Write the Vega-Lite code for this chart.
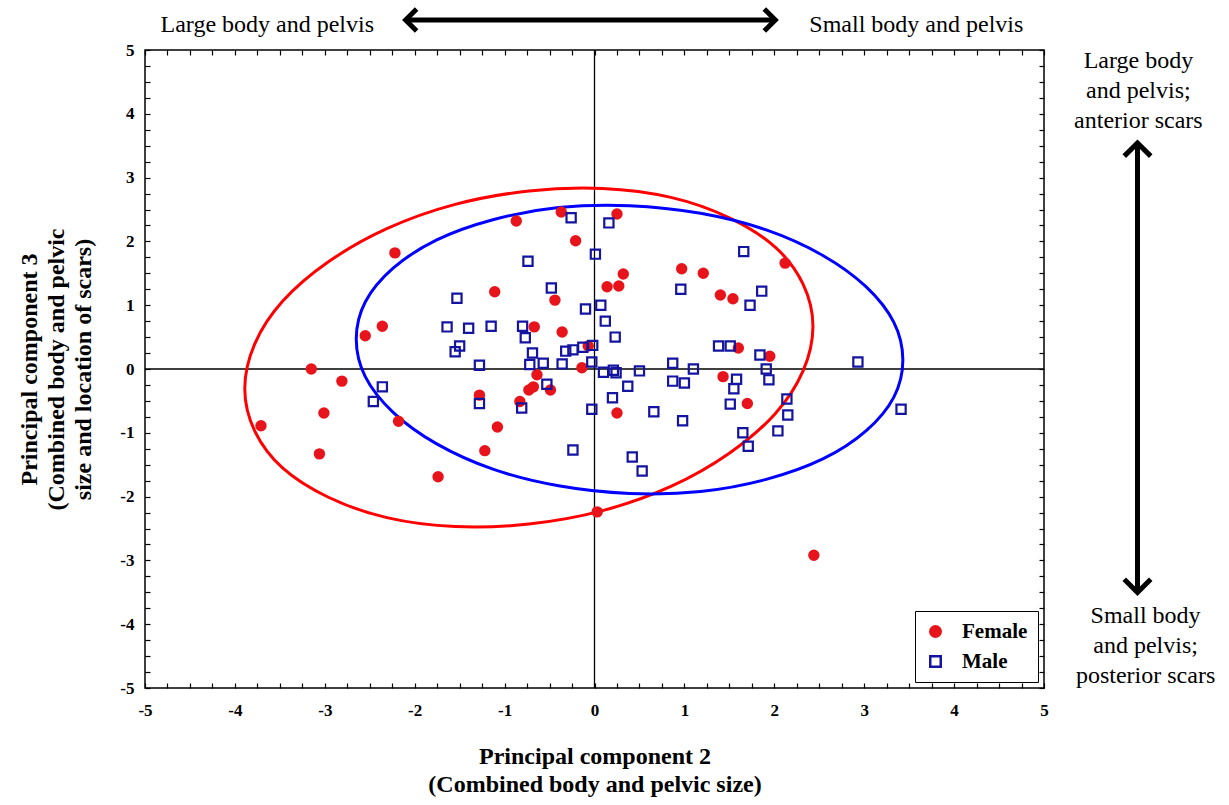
{
  "$schema": "https://vega.github.io/schema/vega-lite/v6.json",
  "width": 899,
  "height": 638,
  "autosize": "none",
  "padding": {"left": 145, "top": 50, "right": 185, "bottom": 117},
  "background": "white",
  "config": {
    "view": {"stroke": "black", "strokeWidth": 1.5},
    "font": "Liberation Serif",
    "axis": {
      "grid": false,
      "domain": false,
      "ticks": true,
      "tickColor": "black",
      "tickWidth": 1.2,
      "tickOpacity": 1,
      "labelFlush": false,
      "labelOverlap": false,
      "labelFont": "Liberation Serif",
      "labelFontWeight": "bold",
      "labelFontSize": 17,
      "labelColor": "black",
      "titleFont": "Liberation Serif",
      "titleFontWeight": "bold",
      "titleFontSize": 24,
      "titleColor": "black"
    },
    "legend": {
      "orient": "bottom-right",
      "offset": 6,
      "strokeColor": "black",
      "fillColor": "white",
      "padding": 10,
      "rowPadding": 8,
      "labelFont": "Liberation Serif",
      "labelFontWeight": "bold",
      "labelFontSize": 21,
      "labelColor": "black",
      "labelOffset": 16,
      "symbolSize": 110,
      "symbolStrokeWidth": 2.5
    }
  },
  "datasets": {
    "pts": [
      {"sex": "Female", "pc2": -3.71, "pc3": -0.89},
      {"sex": "Female", "pc2": -3.15, "pc3": 0.0},
      {"sex": "Female", "pc2": -3.01, "pc3": -0.69},
      {"sex": "Female", "pc2": -3.06, "pc3": -1.33},
      {"sex": "Female", "pc2": -2.81, "pc3": -0.19},
      {"sex": "Female", "pc2": -2.55, "pc3": 0.52},
      {"sex": "Female", "pc2": -2.36, "pc3": 0.67},
      {"sex": "Female", "pc2": -2.22, "pc3": 1.82},
      {"sex": "Female", "pc2": -2.18, "pc3": -0.82},
      {"sex": "Female", "pc2": -1.74, "pc3": -1.69},
      {"sex": "Female", "pc2": -1.28, "pc3": -0.41},
      {"sex": "Female", "pc2": -1.22, "pc3": -1.28},
      {"sex": "Female", "pc2": -1.11, "pc3": 1.21},
      {"sex": "Female", "pc2": -1.08, "pc3": -0.91},
      {"sex": "Female", "pc2": -0.87, "pc3": 2.32},
      {"sex": "Female", "pc2": -0.83, "pc3": -0.51},
      {"sex": "Female", "pc2": -0.73, "pc3": -0.33},
      {"sex": "Female", "pc2": -0.68, "pc3": -0.28},
      {"sex": "Female", "pc2": -0.67, "pc3": 0.66},
      {"sex": "Female", "pc2": -0.64, "pc3": -0.09},
      {"sex": "Female", "pc2": -0.49, "pc3": -0.33},
      {"sex": "Female", "pc2": -0.44, "pc3": 1.08},
      {"sex": "Female", "pc2": -0.37, "pc3": 2.46},
      {"sex": "Female", "pc2": -0.36, "pc3": 0.58},
      {"sex": "Female", "pc2": -0.21, "pc3": 2.01},
      {"sex": "Female", "pc2": -0.14, "pc3": 0.02},
      {"sex": "Female", "pc2": -0.07, "pc3": 0.36},
      {"sex": "Female", "pc2": 0.03, "pc3": -2.24},
      {"sex": "Female", "pc2": 0.14, "pc3": 1.29},
      {"sex": "Female", "pc2": 0.25, "pc3": 2.43},
      {"sex": "Female", "pc2": 0.25, "pc3": -0.69},
      {"sex": "Female", "pc2": 0.27, "pc3": 1.3},
      {"sex": "Female", "pc2": 0.32, "pc3": 1.49},
      {"sex": "Female", "pc2": 0.97, "pc3": 1.57},
      {"sex": "Female", "pc2": 1.21, "pc3": 1.5},
      {"sex": "Female", "pc2": 1.4, "pc3": 1.16},
      {"sex": "Female", "pc2": 1.43, "pc3": -0.12},
      {"sex": "Female", "pc2": 1.54, "pc3": 1.1},
      {"sex": "Female", "pc2": 1.6, "pc3": 0.33},
      {"sex": "Female", "pc2": 1.7, "pc3": -0.54},
      {"sex": "Female", "pc2": 1.95, "pc3": 0.2},
      {"sex": "Female", "pc2": 2.12, "pc3": 1.66},
      {"sex": "Female", "pc2": 2.44, "pc3": -2.92},
      {"sex": "Male", "pc2": -2.46, "pc3": -0.51},
      {"sex": "Male", "pc2": -2.36, "pc3": -0.28},
      {"sex": "Male", "pc2": -1.64, "pc3": 0.66},
      {"sex": "Male", "pc2": -1.53, "pc3": 1.11},
      {"sex": "Male", "pc2": -1.5, "pc3": 0.36},
      {"sex": "Male", "pc2": -1.55, "pc3": 0.27},
      {"sex": "Male", "pc2": -1.4, "pc3": 0.64},
      {"sex": "Male", "pc2": -1.28, "pc3": 0.06},
      {"sex": "Male", "pc2": -1.28, "pc3": -0.54},
      {"sex": "Male", "pc2": -1.15, "pc3": 0.67},
      {"sex": "Male", "pc2": -0.81, "pc3": -0.61},
      {"sex": "Male", "pc2": -0.8, "pc3": 0.67},
      {"sex": "Male", "pc2": -0.77, "pc3": 0.49},
      {"sex": "Male", "pc2": -0.74, "pc3": 1.69},
      {"sex": "Male", "pc2": -0.72, "pc3": 0.07},
      {"sex": "Male", "pc2": -0.69, "pc3": 0.25},
      {"sex": "Male", "pc2": -0.57, "pc3": 0.09},
      {"sex": "Male", "pc2": -0.53, "pc3": -0.24},
      {"sex": "Male", "pc2": -0.48, "pc3": 1.27},
      {"sex": "Male", "pc2": -0.36, "pc3": 0.08},
      {"sex": "Male", "pc2": -0.32, "pc3": 0.28},
      {"sex": "Male", "pc2": -0.26, "pc3": 2.37},
      {"sex": "Male", "pc2": -0.24, "pc3": 0.3},
      {"sex": "Male", "pc2": -0.24, "pc3": -1.27},
      {"sex": "Male", "pc2": -0.13, "pc3": 0.34},
      {"sex": "Male", "pc2": -0.1, "pc3": 0.94},
      {"sex": "Male", "pc2": -0.03, "pc3": 0.11},
      {"sex": "Male", "pc2": -0.03, "pc3": -0.63},
      {"sex": "Male", "pc2": -0.02, "pc3": 0.37},
      {"sex": "Male", "pc2": 0.01, "pc3": 1.8},
      {"sex": "Male", "pc2": 0.07, "pc3": 1.0},
      {"sex": "Male", "pc2": 0.1, "pc3": -0.05},
      {"sex": "Male", "pc2": 0.12, "pc3": 0.75},
      {"sex": "Male", "pc2": 0.16, "pc3": 2.29},
      {"sex": "Male", "pc2": 0.2, "pc3": -0.45},
      {"sex": "Male", "pc2": 0.21, "pc3": -0.02},
      {"sex": "Male", "pc2": 0.24, "pc3": -0.06},
      {"sex": "Male", "pc2": 0.23, "pc3": 0.5},
      {"sex": "Male", "pc2": 0.37, "pc3": -0.27},
      {"sex": "Male", "pc2": 0.42, "pc3": -1.38},
      {"sex": "Male", "pc2": 0.5, "pc3": -0.03},
      {"sex": "Male", "pc2": 0.53, "pc3": -1.6},
      {"sex": "Male", "pc2": 0.66, "pc3": -0.67},
      {"sex": "Male", "pc2": 0.87, "pc3": 0.09},
      {"sex": "Male", "pc2": 0.87, "pc3": -0.19},
      {"sex": "Male", "pc2": 0.96, "pc3": 1.25},
      {"sex": "Male", "pc2": 0.98, "pc3": -0.81},
      {"sex": "Male", "pc2": 1.0, "pc3": -0.22},
      {"sex": "Male", "pc2": 1.1, "pc3": 0.0},
      {"sex": "Male", "pc2": 1.38, "pc3": 0.36},
      {"sex": "Male", "pc2": 1.51, "pc3": 0.36},
      {"sex": "Male", "pc2": 1.51, "pc3": -0.55},
      {"sex": "Male", "pc2": 1.55, "pc3": -0.31},
      {"sex": "Male", "pc2": 1.58, "pc3": -0.16},
      {"sex": "Male", "pc2": 1.65, "pc3": -1.0},
      {"sex": "Male", "pc2": 1.66, "pc3": 1.84},
      {"sex": "Male", "pc2": 1.71, "pc3": -1.21},
      {"sex": "Male", "pc2": 1.73, "pc3": 1.0},
      {"sex": "Male", "pc2": 1.84, "pc3": 0.22},
      {"sex": "Male", "pc2": 1.86, "pc3": 1.22},
      {"sex": "Male", "pc2": 1.91, "pc3": 0.0},
      {"sex": "Male", "pc2": 1.94, "pc3": -0.17},
      {"sex": "Male", "pc2": 2.04, "pc3": -0.97},
      {"sex": "Male", "pc2": 2.14, "pc3": -0.47},
      {"sex": "Male", "pc2": 2.15, "pc3": -0.72},
      {"sex": "Male", "pc2": 2.93, "pc3": 0.11},
      {"sex": "Male", "pc2": 3.41, "pc3": -0.63}
    ],
    "ellF": [
      {"i": 0, "x": 2.43, "y": 0.67}, {"i": 1, "x": 2.32, "y": 1.33},
      {"i": 2, "x": 2.01, "y": 1.91}, {"i": 3, "x": 1.5, "y": 2.37},
      {"i": 4, "x": 0.85, "y": 2.69}, {"i": 5, "x": 0.09, "y": 2.83},
      {"i": 6, "x": -0.73, "y": 2.79}, {"i": 7, "x": -1.55, "y": 2.58},
      {"i": 8, "x": -2.31, "y": 2.2}, {"i": 9, "x": -2.96, "y": 1.68},
      {"i": 10, "x": -3.47, "y": 1.06}, {"i": 11, "x": -3.78, "y": 0.39},
      {"i": 12, "x": -3.89, "y": -0.31}, {"i": 13, "x": -3.78, "y": -0.97},
      {"i": 14, "x": -3.47, "y": -1.55}, {"i": 15, "x": -2.96, "y": -2.01},
      {"i": 16, "x": -2.31, "y": -2.33}, {"i": 17, "x": -1.55, "y": -2.47},
      {"i": 18, "x": -0.73, "y": -2.43}, {"i": 19, "x": 0.09, "y": -2.22},
      {"i": 20, "x": 0.85, "y": -1.84}, {"i": 21, "x": 1.5, "y": -1.32},
      {"i": 22, "x": 2.01, "y": -0.7}, {"i": 23, "x": 2.32, "y": -0.03}
    ],
    "ellM": [
      {"i": 0, "x": 3.43, "y": 0.14}, {"i": 1, "x": 3.33, "y": 0.73},
      {"i": 2, "x": 3.02, "y": 1.29}, {"i": 3, "x": 2.54, "y": 1.78},
      {"i": 4, "x": 1.91, "y": 2.18}, {"i": 5, "x": 1.18, "y": 2.44},
      {"i": 6, "x": 0.39, "y": 2.56}, {"i": 7, "x": -0.4, "y": 2.53},
      {"i": 8, "x": -1.13, "y": 2.34}, {"i": 9, "x": -1.76, "y": 2.02},
      {"i": 10, "x": -2.24, "y": 1.58}, {"i": 11, "x": -2.55, "y": 1.05},
      {"i": 12, "x": -2.65, "y": 0.47}, {"i": 13, "x": -2.55, "y": -0.12},
      {"i": 14, "x": -2.24, "y": -0.68}, {"i": 15, "x": -1.76, "y": -1.17},
      {"i": 16, "x": -1.13, "y": -1.57}, {"i": 17, "x": -0.4, "y": -1.83},
      {"i": 18, "x": 0.39, "y": -1.95}, {"i": 19, "x": 1.18, "y": -1.92},
      {"i": 20, "x": 1.91, "y": -1.73}, {"i": 21, "x": 2.54, "y": -1.41},
      {"i": 22, "x": 3.02, "y": -0.97}, {"i": 23, "x": 3.33, "y": -0.44}
    ],
    "zero": [{"v": 0}],
    "hline": [{"x1": -2.08, "x2": 1.99, "y": 5.47}],
    "headL": [{"x": -2.04, "y": 5.47}],
    "headR": [{"x": 1.95, "y": 5.47}],
    "vline": [{"x": 6.04, "y1": 3.5, "y2": -3.45}],
    "headU": [{"x": 6.04, "y": 3.44}],
    "headD": [{"x": 6.04, "y": -3.4}],
    "toptext": [
      {"x": -3.64, "y": 5.28, "t": "Large body and pelvis"},
      {"x": 3.58, "y": 5.28, "t": "Small body and pelvis"}
    ],
    "sidetext": [
      {"x": 6.05, "y": 4.72, "t": "Large body\nand pelvis;\nanterior scars"},
      {"x": 6.13, "y": -3.98, "t": "Small body\nand pelvis;\nposterior scars"}
    ]
  },
  "layer": [
    {
      "data": {"name": "zero"},
      "mark": {"type": "rule", "color": "black", "strokeWidth": 1.3},
      "encoding": {
        "x": {"field": "v", "type": "quantitative", "scale": {"domain": [-5, 5], "nice": false, "zero": false}, "axis": null}
      }
    },
    {
      "data": {"name": "zero"},
      "mark": {"type": "rule", "color": "black", "strokeWidth": 1.3},
      "encoding": {
        "y": {"field": "v", "type": "quantitative", "scale": {"domain": [-5, 5], "nice": false, "zero": false}, "axis": null}
      }
    },
    {
      "data": {"name": "ellF"},
      "mark": {"type": "line", "color": "#ff0000", "strokeWidth": 3, "interpolate": "cardinal-closed"},
      "encoding": {
        "x": {"field": "x", "type": "quantitative", "scale": {"domain": [-5, 5], "nice": false, "zero": false},
          "axis": {"orient": "top", "labels": false, "title": null,
            "values": [-5,-4.75,-4.5,-4.25,-4,-3.75,-3.5,-3.25,-3,-2.75,-2.5,-2.25,-2,-1.75,-1.5,-1.25,-1,-0.75,-0.5,-0.25,0,0.25,0.5,0.75,1,1.25,1.5,1.75,2,2.25,2.5,2.75,3,3.25,3.5,3.75,4,4.25,4.5,4.75,5],
            "tickSize": -5}},
        "y": {"field": "y", "type": "quantitative", "scale": {"domain": [-5, 5], "nice": false, "zero": false},
          "axis": {"orient": "right", "labels": false, "title": null,
            "values": [-5,-4.75,-4.5,-4.25,-4,-3.75,-3.5,-3.25,-3,-2.75,-2.5,-2.25,-2,-1.75,-1.5,-1.25,-1,-0.75,-0.5,-0.25,0,0.25,0.5,0.75,1,1.25,1.5,1.75,2,2.25,2.5,2.75,3,3.25,3.5,3.75,4,4.25,4.5,4.75,5],
            "tickSize": -5}},
        "order": {"field": "i", "type": "quantitative"}
      }
    },
    {
      "data": {"name": "ellM"},
      "mark": {"type": "line", "color": "#0000ff", "strokeWidth": 3, "interpolate": "cardinal-closed"},
      "encoding": {
        "x": {"field": "x", "type": "quantitative", "scale": {"domain": [-5, 5], "nice": false, "zero": false}, "axis": null},
        "y": {"field": "y", "type": "quantitative", "scale": {"domain": [-5, 5], "nice": false, "zero": false}, "axis": null},
        "order": {"field": "i", "type": "quantitative"}
      }
    },
    {
      "data": {"name": "pts"},
      "mark": {"type": "point", "filled": false, "opacity": 1, "strokeWidth": 2.2, "size": 85},
      "encoding": {
        "x": {"field": "pc2", "type": "quantitative", "scale": {"domain": [-5, 5], "nice": false, "zero": false},
          "axis": {"orient": "bottom",
            "values": [-5,-4.75,-4.5,-4.25,-4,-3.75,-3.5,-3.25,-3,-2.75,-2.5,-2.25,-2,-1.75,-1.5,-1.25,-1,-0.75,-0.5,-0.25,0,0.25,0.5,0.75,1,1.25,1.5,1.75,2,2.25,2.5,2.75,3,3.25,3.5,3.75,4,4.25,4.5,4.75,5],
            "tickSize": -5,
            "labelExpr": "datum.value % 1 === 0 ? '' + datum.value : ''",
            "labelPadding": 19,
            "title": ["Principal component 2", "(Combined body and pelvic size)"],
            "titleLineHeight": 28,
            "titlePadding": 26}},
        "y": {"field": "pc3", "type": "quantitative", "scale": {"domain": [-5, 5], "nice": false, "zero": false},
          "axis": {"orient": "left",
            "values": [-5,-4.75,-4.5,-4.25,-4,-3.75,-3.5,-3.25,-3,-2.75,-2.5,-2.25,-2,-1.75,-1.5,-1.25,-1,-0.75,-0.5,-0.25,0,0.25,0.5,0.75,1,1.25,1.5,1.75,2,2.25,2.5,2.75,3,3.25,3.5,3.75,4,4.25,4.5,4.75,5],
            "tickSize": -5,
            "labelExpr": "datum.value % 1 === 0 ? '' + datum.value : ''",
            "labelPadding": 16,
            "title": ["Principal component 3", "(Combined body and pelvic", "size and location of scars)"],
            "titleLineHeight": 27,
            "titlePadding": 24}},
        "fill": {"field": "sex", "type": "nominal", "scale": {"domain": ["Female", "Male"], "range": ["#e8141b", "transparent"]}, "legend": {"title": null}},
        "stroke": {"field": "sex", "type": "nominal", "scale": {"domain": ["Female", "Male"], "range": ["#e8141b", "#1414a0"]}, "legend": {"title": null}},
        "shape": {"field": "sex", "type": "nominal", "scale": {"domain": ["Female", "Male"], "range": ["circle", "square"]}, "legend": {"title": null}}
      }
    },
    {
      "data": {"name": "hline"},
      "mark": {"type": "rule", "color": "black", "strokeWidth": 5, "clip": false},
      "encoding": {
        "x": {"field": "x1", "type": "quantitative", "scale": {"domain": [-5, 5], "nice": false, "zero": false}, "axis": null},
        "x2": {"field": "x2"},
        "y": {"field": "y", "type": "quantitative", "scale": {"domain": [-5, 5], "nice": false, "zero": false}, "axis": null}
      }
    },
    {
      "data": {"name": "headL"},
      "mark": {"type": "point", "shape": "M0.5,-1L-0.5,0L0.5,1", "filled": false, "opacity": 1, "stroke": "black", "strokeWidth": 5, "size": 484, "clip": false},
      "encoding": {
        "x": {"field": "x", "type": "quantitative", "scale": {"domain": [-5, 5], "nice": false, "zero": false}, "axis": null},
        "y": {"field": "y", "type": "quantitative", "scale": {"domain": [-5, 5], "nice": false, "zero": false}, "axis": null}
      }
    },
    {
      "data": {"name": "headR"},
      "mark": {"type": "point", "shape": "M-0.5,-1L0.5,0L-0.5,1", "filled": false, "opacity": 1, "stroke": "black", "strokeWidth": 5, "size": 484, "clip": false},
      "encoding": {
        "x": {"field": "x", "type": "quantitative", "scale": {"domain": [-5, 5], "nice": false, "zero": false}, "axis": null},
        "y": {"field": "y", "type": "quantitative", "scale": {"domain": [-5, 5], "nice": false, "zero": false}, "axis": null}
      }
    },
    {
      "data": {"name": "vline"},
      "mark": {"type": "rule", "color": "black", "strokeWidth": 5, "clip": false},
      "encoding": {
        "x": {"field": "x", "type": "quantitative", "scale": {"domain": [-5, 5], "nice": false, "zero": false}, "axis": null},
        "y": {"field": "y1", "type": "quantitative", "scale": {"domain": [-5, 5], "nice": false, "zero": false}, "axis": null},
        "y2": {"field": "y2"}
      }
    },
    {
      "data": {"name": "headU"},
      "mark": {"type": "point", "shape": "M-1,0.5L0,-0.5L1,0.5", "filled": false, "opacity": 1, "stroke": "black", "strokeWidth": 5, "size": 700, "clip": false},
      "encoding": {
        "x": {"field": "x", "type": "quantitative", "scale": {"domain": [-5, 5], "nice": false, "zero": false}, "axis": null},
        "y": {"field": "y", "type": "quantitative", "scale": {"domain": [-5, 5], "nice": false, "zero": false}, "axis": null}
      }
    },
    {
      "data": {"name": "headD"},
      "mark": {"type": "point", "shape": "M-1,-0.5L0,0.5L1,-0.5", "filled": false, "opacity": 1, "stroke": "black", "strokeWidth": 5, "size": 700, "clip": false},
      "encoding": {
        "x": {"field": "x", "type": "quantitative", "scale": {"domain": [-5, 5], "nice": false, "zero": false}, "axis": null},
        "y": {"field": "y", "type": "quantitative", "scale": {"domain": [-5, 5], "nice": false, "zero": false}, "axis": null}
      }
    },
    {
      "data": {"name": "toptext"},
      "mark": {"type": "text", "font": "Liberation Serif", "fontSize": 24, "color": "black", "align": "center", "baseline": "alphabetic", "clip": false},
      "encoding": {
        "x": {"field": "x", "type": "quantitative", "scale": {"domain": [-5, 5], "nice": false, "zero": false}, "axis": null},
        "y": {"field": "y", "type": "quantitative", "scale": {"domain": [-5, 5], "nice": false, "zero": false}, "axis": null},
        "text": {"field": "t"}
      }
    },
    {
      "data": {"name": "sidetext"},
      "mark": {"type": "text", "font": "Liberation Serif", "fontSize": 24, "lineHeight": 30, "lineBreak": "\n", "color": "black", "align": "center", "baseline": "alphabetic", "clip": false},
      "encoding": {
        "x": {"field": "x", "type": "quantitative", "scale": {"domain": [-5, 5], "nice": false, "zero": false}, "axis": null},
        "y": {"field": "y", "type": "quantitative", "scale": {"domain": [-5, 5], "nice": false, "zero": false}, "axis": null},
        "text": {"field": "t"}
      }
    }
  ],
  "resolve": {
    "axis": {"x": "independent", "y": "independent"}
  }
}
